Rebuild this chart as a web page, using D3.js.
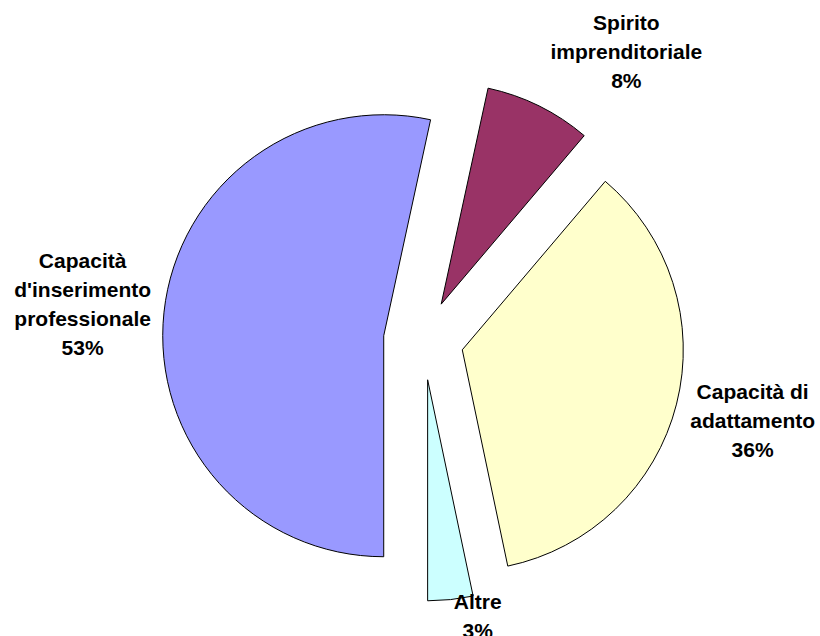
<!DOCTYPE html>
<html>
<head>
<meta charset="utf-8">
<script src="https://cdn.jsdelivr.net/npm/d3@7/dist/d3.min.js"></script>
<style>
  body { margin: 0; background: #fff; }
  svg text { font-family: Arial, "Liberation Sans", sans-serif; font-weight: bold; font-size: 21px; fill: #000; }
</style>
</head>
<body>
<div id="chart"></div>
<script>
// data, clockwise starting from the bottom of the pie
const categories = ["Capacità d'inserimento professionale", "Spirito imprenditoriale", "Capacità di adattamento", "Altre"];
const labelLines = [
  ["Capacità", "d'inserimento", "professionale"],
  ["Spirito", "imprenditoriale"],
  ["Capacità di", "adattamento"],
  ["Altre"]
];
const values = [53.4, 7.8, 35.5, 3.3];
const percentLabels = ["53%", "8%", "36%", "3%"];
const colors = ["#9999FF", "#993366", "#FFFFCC", "#CCFFFF"];

const width = 820;
const height = 636;
const cx = 423.5, cy = 340;
const radius = 221;
const explode = 40;
const lineH = 29;
// small manual tweaks for the label boxes (excel shifts some of them)
const labelNudge = [[-3, -1], [7, -7], [4, 3], [20, -22]];

const svg = d3.select("#chart").append("svg")
  .attr("width", width)
  .attr("height", height);

const g = svg.append("g").attr("transform", `translate(${cx},${cy})`);

const pie = d3.pie().sort(null).value((d) => d)
  .startAngle(Math.PI).endAngle(3 * Math.PI);
const arcs = pie(values);
const arc = d3.arc().innerRadius(0).outerRadius(radius);

const mid = (d) => (d.startAngle + d.endAngle) / 2;

g.selectAll("path.slice")
  .data(arcs)
  .enter()
  .append("path")
  .attr("class", "slice")
  .attr("d", arc)
  .attr("transform", (d) => `translate(${explode * Math.sin(mid(d))},${-explode * Math.cos(mid(d))})`)
  .style("fill", (d, i) => colors[i])
  .style("stroke", "#000")
  .style("stroke-width", 1);

// labels outside the exploded slices
arcs.forEach((d, i) => {
  const a = mid(d);
  const lines = labelLines[i].concat([percentLabels[i]]);
  const t = g.append("text").attr("text-anchor", "middle");
  lines.forEach((l, j) => t.append("tspan").attr("x", 0).attr("dy", j === 0 ? 0 : lineH).text(l));
  let w = 0;
  t.selectAll("tspan").each(function () { w = Math.max(w, this.getComputedTextLength()); });
  const h = lines.length * lineH;
  const r = explode + radius + 10;
  const px = r * Math.sin(a), py = -r * Math.cos(a);
  const kx = Math.max(-1, Math.min(1, Math.sin(a) * 2.5));
  const ky = -Math.cos(a);
  const bx = px + kx * w / 2 + labelNudge[i][0];
  const by = py + ky * h / 2 + labelNudge[i][1];
  t.attr("transform", `translate(${bx},${by - h / 2 + 22})`);
});
</script>
</body>
</html>
